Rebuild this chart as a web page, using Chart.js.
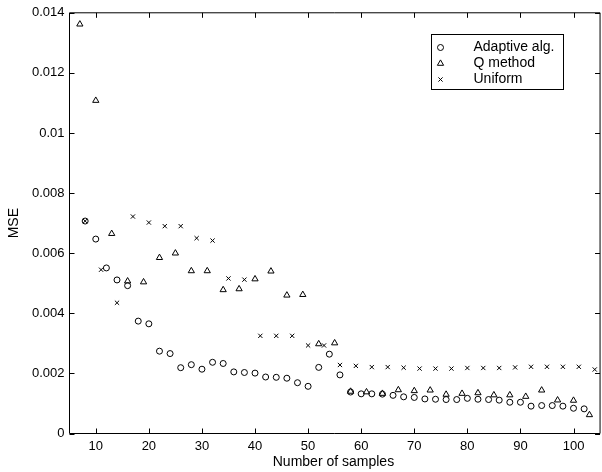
<!DOCTYPE html>
<html>
<head>
<meta charset="utf-8">
<title>MSE vs number of samples</title>
<script src="https://cdn.jsdelivr.net/npm/chart.js@4"></script>
<style>
  html, body { margin: 0; padding: 0; background: #fff; }
  #wrap { width: 602px; height: 472px; }
</style>
</head>
<body>
<div id="wrap"><canvas id="mseChart" width="602" height="472"></canvas></div>
<script>
// sample counts and MSE for each method
const adaptiveX = [8, 10, 12, 14, 16, 18, 20, 22, 24, 26, 28, 30, 32, 34, 36, 38, 40, 42, 44, 46, 48, 50,
  52, 54, 56, 58, 60, 62, 64, 66, 68, 70, 72, 74, 76, 78, 80, 82, 84, 86, 88, 90, 92, 94, 96, 98, 100, 102];
const adaptiveMse = [0.00707, 0.00647, 0.00551, 0.00511, 0.00492, 0.00374, 0.00365, 0.00274, 0.00266, 0.00219,
  0.00229, 0.00214, 0.00237, 0.00233, 0.00205, 0.00203, 0.00201, 0.00188, 0.00187, 0.00184, 0.00169, 0.00157,
  0.00220, 0.00264, 0.00195, 0.00138, 0.00132, 0.00132, 0.00131, 0.00127, 0.00122, 0.00120, 0.00115, 0.00114,
  0.00113, 0.00113, 0.00117, 0.00114, 0.00113, 0.00111, 0.00104, 0.00104, 0.00091, 0.00093, 0.00093, 0.00091,
  0.00084, 0.00082];

const qMethodX = [7, 10, 13, 16, 19, 22, 25, 28, 31, 34, 37, 40, 43, 46, 49, 52, 55, 58, 61, 64, 67, 70,
  73, 76, 79, 82, 85, 88, 91, 94, 97, 100, 103];
const qMethodMse = [0.01362, 0.01108, 0.00665, 0.00507, 0.00504, 0.00585, 0.00600, 0.00541, 0.00541, 0.00478,
  0.00481, 0.00514, 0.00540, 0.00460, 0.00462, 0.00298, 0.00301, 0.00140, 0.00138, 0.00133, 0.00145, 0.00142,
  0.00144, 0.00130, 0.00133, 0.00135, 0.00128, 0.00128, 0.00123, 0.00144, 0.00111, 0.00110, 0.00062];

const uniformX = [8, 11, 14, 17, 20, 23, 26, 29, 32, 35, 38, 41, 44, 47, 50, 53, 56, 59, 62, 65, 68, 71,
  74, 77, 80, 83, 86, 89, 92, 95, 98, 101, 104];
const uniformMse = [0.00707, 0.00545, 0.00435, 0.00722, 0.00702, 0.00690, 0.00690, 0.00650, 0.00642, 0.00516,
  0.00512, 0.00325, 0.00325, 0.00325, 0.00293, 0.00293, 0.00228, 0.00225, 0.00221, 0.00221, 0.00219, 0.00216,
  0.00216, 0.00216, 0.00218, 0.00218, 0.00218, 0.00220, 0.00222, 0.00222, 0.00222, 0.00222, 0.00213];

const seriesNames = ['Adaptive alg.', 'Q method', 'Uniform'];

const xTicks = [10, 20, 30, 40, 50, 60, 70, 80, 90, 100];
const xTickLabels = ['10', '20', '30', '40', '50', '60', '70', '80', '90', '100'];
const yTicks = [0, 0.002, 0.004, 0.006, 0.008, 0.01, 0.012, 0.014];
const yTickLabels = ['0', '0.002', '0.004', '0.006', '0.008', '0.01', '0.012', '0.014'];

// the axes box runs to x = 105, a little past the right edge of the canvas
const xBoxEnd = 105;

const FONT = "'Liberation Sans', Arial, Helvetica, sans-serif";

function toPoints(xs, ys) {
  return xs.map((x, i) => ({ x: x, y: ys[i] }));
}

function markerSet(label, data, style, radius) {
  return {
    label: label,
    data: data,
    showLine: false,
    pointStyle: style,
    pointRadius: radius,
    pointHoverRadius: radius,
    pointBorderWidth: 1,
    pointBorderColor: '#000',
    pointBackgroundColor: 'rgba(0,0,0,0)',
    clip: false
  };
}

// boxed axes with inward ticks on all four sides, plus the legend box
const framePlugin = {
  id: 'frame',
  afterDraw(chart) {
    const { ctx, chartArea: a, scales } = chart;
    const xs = scales.x, ys = scales.y;
    const len = 5;
    const right = xs.getPixelForValue(xBoxEnd);
    ctx.save();
    ctx.strokeStyle = '#000';
    ctx.lineWidth = 1;
    ctx.beginPath();
    ctx.moveTo(right, a.top); ctx.lineTo(a.left, a.top);
    ctx.lineTo(a.left, a.bottom); ctx.lineTo(right, a.bottom);
    ctx.lineTo(right, a.top);
    xTicks.forEach(v => {
      const px = Math.round(xs.getPixelForValue(v)) + 0.5;
      ctx.moveTo(px, a.bottom); ctx.lineTo(px, a.bottom - len);
      ctx.moveTo(px, a.top); ctx.lineTo(px, a.top + len);
    });
    yTicks.forEach(v => {
      const py = Math.round(ys.getPixelForValue(v)) + 0.5;
      ctx.moveTo(a.left, py); ctx.lineTo(a.left + len, py);
      ctx.moveTo(right, py); ctx.lineTo(right - len, py);
    });
    ctx.stroke();

    // legend
    const box = { left: 431.5, top: 34.5, width: 132, height: 55 };
    ctx.fillStyle = '#fff';
    ctx.fillRect(box.left, box.top, box.width, box.height);
    ctx.strokeRect(box.left, box.top, box.width, box.height);
    ctx.font = '14px ' + FONT;
    ctx.textBaseline = 'middle';
    ctx.textAlign = 'left';
    chart.data.datasets.forEach((ds, i) => {
      const rowY = box.top + 13 + i * 16;
      ctx.fillStyle = 'rgba(0,0,0,0)';
      ctx.strokeStyle = '#000';
      ctx.lineWidth = 1;
      Chart.helpers.drawPoint(ctx, {
        pointStyle: ds.pointStyle,
        radius: ds.pointRadius,
        borderWidth: 1,
        rotation: 0
      }, box.left + 9, rowY);
      ctx.fillStyle = '#000';
      ctx.fillText(ds.label, box.left + 42, rowY);
    });
    ctx.restore();
  }
};

const ctx = document.getElementById('mseChart').getContext('2d');
const mseChart = new Chart(ctx, {
  type: 'scatter',
  data: {
    datasets: [
      markerSet(seriesNames[0], toPoints(adaptiveX, adaptiveMse), 'circle', 3),
      markerSet(seriesNames[1], toPoints(qMethodX, qMethodMse), 'triangle', 3.6),
      markerSet(seriesNames[2], toPoints(uniformX, uniformMse), 'crossRot', 3)
    ]
  },
  options: {
    responsive: false,
    devicePixelRatio: 1,
    animation: false,
    layout: { padding: { top: 11.5, left: 0, bottom: 0, right: 0 } },
    plugins: {
      legend: { display: false },
      tooltip: { enabled: false }
    },
    scales: {
      x: {
        type: 'linear',
        min: 5.05,
        max: 104.5,
        grid: { display: false, drawTicks: false },
        border: { display: false },
        afterBuildTicks: s => { s.ticks = xTicks.map(v => ({ value: v })); },
        afterFit: s => { s.height = 38.5; },
        ticks: {
          autoSkip: false,
          maxRotation: 0,
          padding: 5,
          color: '#000',
          font: { family: FONT, size: 13 },
          callback: (v, i) => xTickLabels[i]
        },
        title: {
          display: true,
          text: 'Number of samples',
          color: '#000',
          font: { family: FONT, size: 14 },
          padding: { top: 0, bottom: 1.6 }
        }
      },
      y: {
        type: 'linear',
        min: 0,
        max: 0.014,
        grid: { display: false, drawTicks: false },
        border: { display: false },
        afterBuildTicks: s => { s.ticks = yTicks.map(v => ({ value: v })); },
        afterFit: s => { s.width = 69.5; },
        ticks: {
          padding: 5,
          color: '#000',
          font: { family: FONT, size: 13 },
          callback: (v, i) => yTickLabels[i]
        },
        title: {
          display: true,
          text: 'MSE',
          color: '#000',
          font: { family: FONT, size: 14 },
          padding: { top: 5.6, bottom: 0 }
        }
      }
    }
  },
  plugins: [framePlugin]
});
</script>
</body>
</html>
